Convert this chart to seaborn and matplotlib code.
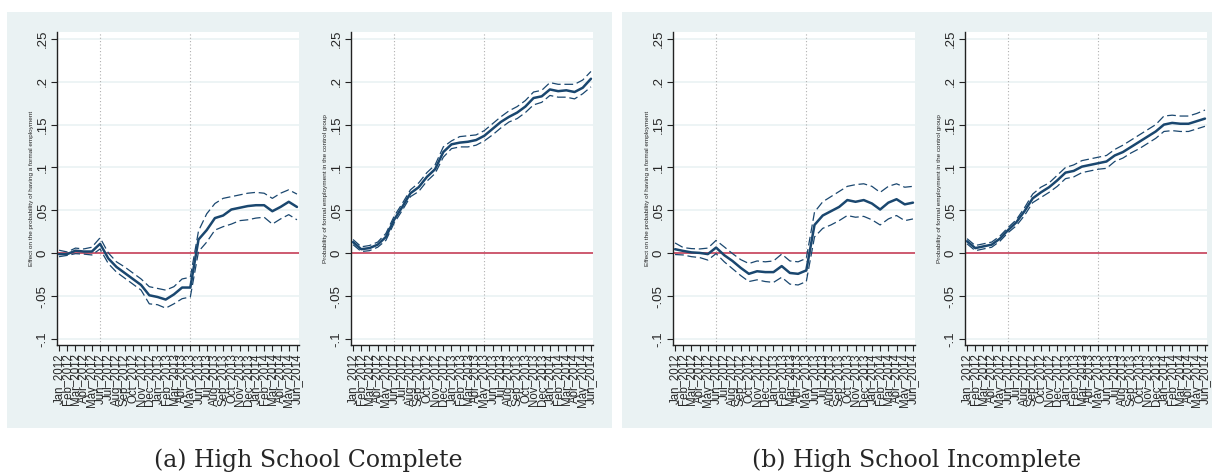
import numpy as np
import pandas as pd
import matplotlib
matplotlib.use("Agg")
import matplotlib.pyplot as plt
from matplotlib.patches import Rectangle
import seaborn as sns

# ---------------- data ----------------
months = ["Jan", "Feb", "Mar", "Apr", "May", "Jun", "Jul", "Aug", "Sep", "Oct", "Nov", "Dec"]
tick_labels = [f"{months[(i) % 12]}_{2012 + i // 12}" for i in range(30)]

# (a) High School Complete - effect
a_eff = [-0.001, -0.001, 0.003, 0.002, 0.002, 0.011, -0.006, -0.016, -0.023, -0.030,
         -0.037, -0.049, -0.051, -0.054, -0.048, -0.040, -0.040, 0.016, 0.027, 0.041,
         0.044, 0.051, 0.053, 0.055, 0.056, 0.056, 0.049, 0.054, 0.060, 0.054]
a_eff_hi = [0.0035, 0.0015, 0.006, 0.005, 0.007, 0.018, 0.0004, -0.010, -0.016, -0.023,
            -0.030, -0.039, -0.041, -0.043, -0.039, -0.030, -0.028, 0.026, 0.046, 0.058,
            0.064, 0.066, 0.068, 0.070, 0.071, 0.070, 0.064, 0.070, 0.074, 0.069]
a_eff_lo = [-0.004, -0.0025, -0.0005, -0.001, -0.002, 0.005, -0.012, -0.022, -0.029, -0.036,
            -0.043, -0.059, -0.060, -0.064, -0.059, -0.053, -0.051, 0.002, 0.013, 0.027,
            0.031, 0.034, 0.038, 0.039, 0.041, 0.042, 0.034, 0.040, 0.045, 0.039]

# (a) High School Complete - control group probability
a_ctl = [0.013, 0.0047, 0.006, 0.010, 0.019, 0.039, 0.054, 0.070, 0.077, 0.089,
         0.098, 0.118, 0.127, 0.129, 0.130, 0.132, 0.137, 0.145, 0.153, 0.159,
         0.164, 0.171, 0.181, 0.183, 0.191, 0.189, 0.190, 0.188, 0.193, 0.2035]
a_ctl_hi = [0.016, 0.0075, 0.009, 0.013, 0.023, 0.043, 0.058, 0.074, 0.082, 0.094,
            0.103, 0.124, 0.131, 0.136, 0.137, 0.138, 0.143, 0.151, 0.159, 0.166,
            0.171, 0.178, 0.188, 0.190, 0.199, 0.197, 0.197, 0.197, 0.202, 0.212]
a_ctl_lo = [0.010, 0.002, 0.003, 0.007, 0.015, 0.035, 0.050, 0.066, 0.072, 0.084,
            0.093, 0.112, 0.122, 0.124, 0.124, 0.126, 0.131, 0.138, 0.146, 0.153,
            0.157, 0.164, 0.173, 0.176, 0.184, 0.182, 0.182, 0.180, 0.186, 0.194]

# (b) High School Incomplete - effect
b_eff = [0.0047, 0.0027, 0.001, 0.0004, -0.001, 0.0066, -0.0023, -0.009, -0.017, -0.024,
         -0.021, -0.022, -0.022, -0.015, -0.023, -0.024, -0.020, 0.033, 0.044, 0.049,
         0.054, 0.062, 0.060, 0.062, 0.058, 0.051, 0.059, 0.063, 0.057, 0.059]
b_eff_hi = [0.012, 0.0066, 0.0054, 0.005, 0.006, 0.015, 0.0074, -0.0004, -0.0074, -0.012,
            -0.009, -0.010, -0.009, -0.001, -0.009, -0.010, -0.006, 0.048, 0.060, 0.066,
            0.072, 0.078, 0.080, 0.081, 0.078, 0.071, 0.078, 0.081, 0.077, 0.078]
b_eff_lo = [-0.0015, -0.002, -0.004, -0.005, -0.008, -0.0004, -0.010, -0.018, -0.026, -0.033,
            -0.031, -0.033, -0.034, -0.028, -0.036, -0.037, -0.033, 0.019, 0.029, 0.033,
            0.038, 0.044, 0.042, 0.043, 0.039, 0.033, 0.040, 0.044, 0.038, 0.040]

# (b) High School Incomplete - control group probability
b_ctl = [0.014, 0.006, 0.008, 0.010, 0.017, 0.027, 0.036, 0.049, 0.064, 0.071,
         0.077, 0.085, 0.094, 0.096, 0.101, 0.103, 0.105, 0.107, 0.114, 0.118,
         0.124, 0.130, 0.136, 0.142, 0.150, 0.152, 0.151, 0.151, 0.154, 0.157]
b_ctl_hi = [0.017, 0.009, 0.011, 0.013, 0.020, 0.030, 0.039, 0.053, 0.069, 0.077,
            0.082, 0.091, 0.100, 0.103, 0.108, 0.110, 0.112, 0.114, 0.121, 0.126,
            0.132, 0.138, 0.144, 0.150, 0.160, 0.161, 0.160, 0.160, 0.163, 0.167]
b_ctl_lo = [0.011, 0.003, 0.005, 0.007, 0.014, 0.024, 0.032, 0.044, 0.059, 0.065,
            0.071, 0.078, 0.087, 0.089, 0.094, 0.096, 0.098, 0.099, 0.107, 0.111,
            0.117, 0.122, 0.128, 0.134, 0.142, 0.143, 0.142, 0.142, 0.145, 0.148]

ytick_vals = [-0.1, -0.05, 0, 0.05, 0.1, 0.15, 0.2, 0.25]
ytick_labels = ["-.1", "-.05", "0", ".05", ".1", ".15", ".2", ".25"]
vline_months = ["Jun_2012", "May_2013"]

ylab_eff = "Effect on the probability of having a formal employment"
ylab_ctl = "Probability of formal employment in the control group"
captions = ["(a) High School Complete", "(b) High School Incomplete"]

# ---------------- style ----------------
sns.set_theme(style="white")
plt.rcParams["font.family"] = ["Liberation Sans", "DejaVu Sans"]

NAVY = "#1a476f"
BG = "#eaf2f3"
RED = "#c8405a"

W, H = 1215, 472
fig = plt.figure(figsize=(W / 100, H / 100), dpi=100)
fig.patch.set_facecolor("white")

# gray panel backgrounds
for (x0, x1) in [(7, 612), (622, 1212)]:
    fig.add_artist(Rectangle((x0 / W, 1 - 428 / H), (x1 - x0) / W, (428 - 12) / H,
                             transform=fig.transFigure, facecolor=BG, edgecolor="none", zorder=0))

axes_px = [57, 351, 673, 965]
ax_w = 242
top, bot = 32, 345

panels = [
    (a_eff, a_eff_hi, a_eff_lo, ylab_eff),
    (a_ctl, a_ctl_hi, a_ctl_lo, ylab_ctl),
    (b_eff, b_eff_hi, b_eff_lo, ylab_eff),
    (b_ctl, b_ctl_hi, b_ctl_lo, ylab_ctl),
]

x = np.arange(len(tick_labels))
for left, (mid, hi, lo, ylab) in zip(axes_px, panels):
    ax = fig.add_axes([left / W, 1 - bot / H, ax_w / W, (bot - top) / H])
    ax.set_facecolor("white")
    ax.set_zorder(1)
    df = pd.DataFrame({"x": x, "mid": mid, "hi": hi, "lo": lo})
    for yv in ytick_vals:
        ax.axhline(yv, color=BG, lw=1.2, zorder=0)
    for m in vline_months:
        ax.axvline(tick_labels.index(m), color="#b0b0b0", lw=0.8, ls=(0, (1, 2)), zorder=1)
    ax.axhline(0, color=RED, lw=1.2, zorder=2)
    sns.lineplot(data=df, x="x", y="hi", ax=ax, color=NAVY, lw=0.9,
                 linestyle=(0, (7, 3)), zorder=3)
    sns.lineplot(data=df, x="x", y="lo", ax=ax, color=NAVY, lw=0.9,
                 linestyle=(0, (7, 3)), zorder=3)
    sns.lineplot(data=df, x="x", y="mid", ax=ax, color=NAVY, lw=1.8, zorder=4)

    ax.set_xlim(-0.25, 29.25)
    ax.set_ylim(-0.107, 0.258)
    ax.set_xticks(x)
    ax.set_xticklabels(tick_labels, rotation=90, fontsize=8.3)
    ax.set_yticks(ytick_vals)
    ax.set_yticklabels(ytick_labels, rotation=90, va="center", fontsize=9.5)
    ax.set_xlabel("")
    ax.set_ylabel(ylab, fontsize=4.6, labelpad=2)
    for s in ["top", "right"]:
        ax.spines[s].set_visible(False)
    for s in ["left", "bottom"]:
        ax.spines[s].set_color("#222222")
        ax.spines[s].set_linewidth(1.0)
    ax.tick_params(axis="both", direction="out", length=4, width=0.8, color="#222222",
                   bottom=True, left=True, pad=2)
    ax.grid(False)

for cx, cap in zip([308, 917], captions):
    fig.text(cx / W, 1 - 460 / H, cap, ha="center", va="center",
             fontsize=17, family=["DejaVu Serif"])

fig.savefig("out.png", dpi=100, facecolor="white")
